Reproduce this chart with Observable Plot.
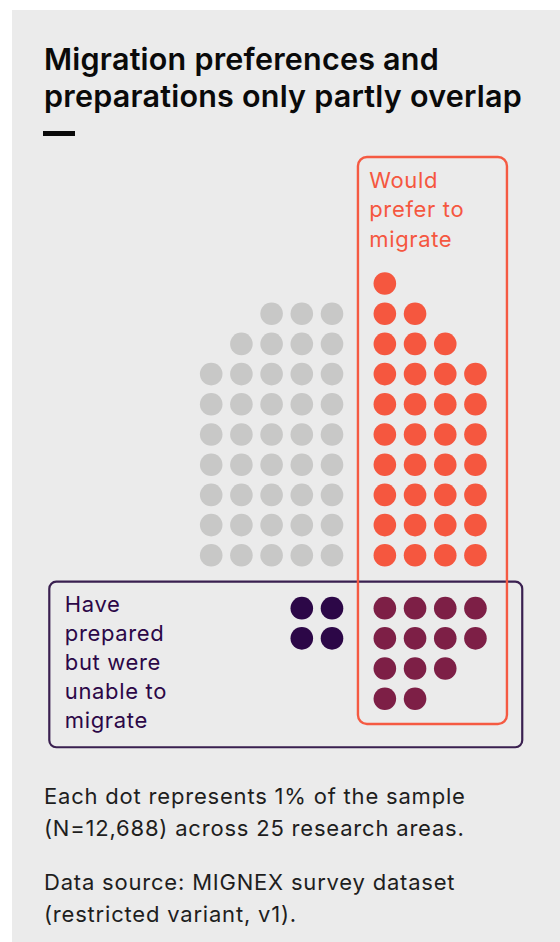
<!DOCTYPE html>
<html><head><meta charset="utf-8">
<script src="https://cdn.jsdelivr.net/npm/d3@7"></script>
<script src="https://cdn.jsdelivr.net/npm/@observablehq/plot@0.6"></script>
<style>
html,body{margin:0;padding:0;background:#fff;width:560px;height:942px;overflow:hidden;}
#panel{position:absolute;left:12px;top:10px;width:548px;height:932px;background:#ebebeb;}
#title{position:absolute;left:44px;top:40.4px;font-family:Inter,sans-serif;font-weight:600;font-size:30.5px;line-height:37px;color:#0a0a0a;white-space:nowrap;letter-spacing:0.22px;}
#dash{position:absolute;left:43px;top:131px;width:32px;height:5px;background:#0a0a0a;}
#chart{position:absolute;left:0;top:140px;}
#chart text{letter-spacing:0.65px;}
#caption{position:absolute;left:44px;top:780px;font-family:Inter,sans-serif;font-size:22px;line-height:32px;color:#1e1e1e;white-space:nowrap;letter-spacing:0.8px;}
#caption p{margin:0 0 22px 0;}
</style></head><body>
<div id="panel"></div>
<div id="title">Migration preferences and<br>preparations only partly overlap</div>
<div id="dash"></div>
<div id="chart"></div>
<div id="caption"><p>Each dot represents 1% of the sample<br>(N=12,688) across 25 research areas.</p><p>Data source: MIGNEX survey dataset<br>(restricted variant, v1).</p></div>
<script>
// ---- data (each dot = 1% of sample) ----
const groups = ["Neither", "Would prefer only", "Prepared only", "Prefer and prepared"];
const groupColors = ["#c8c8c7", "#f5573f", "#2c0747", "#7d1f46"];
// dots per row, top to bottom
const neitherRows   = [0, 3, 4, 5, 5, 5, 5, 5, 5, 5];   // upper block, left side
const preferRows    = [1, 2, 3, 4, 4, 4, 4, 4, 4, 4];   // upper block, right side
const preparedRows  = [2, 2];                          // lower block, left side
const bothRows      = [4, 4, 3, 2];                    // lower block, right side
const preferLabel   = "Would\nprefer to\nmigrate";
const preparedLabel = "Have\nprepared\nbut were\nunable to\nmigrate";

// ---- layout in grid units ----
const GAP = 1.75;               // extra spacing between blocks
const leftEdge = 4;             // last column of left side
const rightStart = leftEdge + GAP;
const lowerStart = preferRows.length - 1 + GAP;
const dots = [];
function addRows(rows, group, side, rowStart) {
  rows.forEach((n, r) => {
    for (let i = 0; i < n; i++) {
      dots.push({group, col: side === "left" ? leftEdge - i : rightStart + i, row: rowStart + r});
    }
  });
}
addRows(neitherRows, groups[0], "left", 0);
addRows(preferRows, groups[1], "right", 0);
addRows(preparedRows, groups[2], "left", lowerStart);
addRows(bothRows, groups[3], "right", lowerStart);

const preferDots = dots.filter(d => d.group === groups[1] || d.group === groups[3]);
const preparedDots = dots.filter(d => d.group === groups[2] || d.group === groups[3]);
const box = arr => ({x1: d3.min(arr, d => d.col), x2: d3.max(arr, d => d.col), y1: d3.min(arr, d => d.row), y2: d3.max(arr, d => d.row)});
const preferBox = box(preferDots);
const preparedBox = box(preparedDots);

const STEP = 30.2, R = 11.3;
const chart = Plot.plot({
  width: 560, height: 630, margin: 0,
  x: {type: "linear", domain: [0, 1], range: [210.7, 210.7 + STEP], axis: null},
  y: {type: "linear", domain: [0, 1], range: [143, 143 + STEP], axis: null},
  color: {domain: groups, range: groupColors},
  style: {background: "transparent", fontFamily: "Inter, sans-serif", overflow: "visible"},
  marks: [
    Plot.rect([preparedBox], {x1: "x1", x2: "x2", y1: "y1", y2: "y2", fill: "none", stroke: "#3a2050", strokeWidth: 2.2, rx: 7,
      insetLeft: -252, insetRight: -47.3, insetTop: -26, insetBottom: -49}),
    Plot.rect([preferBox], {x1: "x1", x2: "x2", y1: "y1", y2: "y2", fill: "none", stroke: "#f55a42", strokeWidth: 2.4, rx: 9,
      insetLeft: -26.4, insetRight: -32, insetTop: -126, insetBottom: -25.8}),
    Plot.dot(dots, {x: "col", y: "row", r: R, fill: "group", stroke: null}),
    Plot.text([preferBox], {x: "x1", y: "y1", text: () => preferLabel, textAnchor: "start", lineAnchor: "top",
      dx: -15.6, dy: -116.8, fontSize: 22, lineHeight: 1.35, fill: "#f5573f"}),
    Plot.text([preparedBox], {x: "x1", y: "y1", text: () => preparedLabel, textAnchor: "start", lineAnchor: "top",
      dx: -237, dy: -16.5, fontSize: 22, lineHeight: 1.318, fill: "#2c0747"})
  ]
});
document.getElementById("chart").appendChild(chart);
</script>
</body></html>
